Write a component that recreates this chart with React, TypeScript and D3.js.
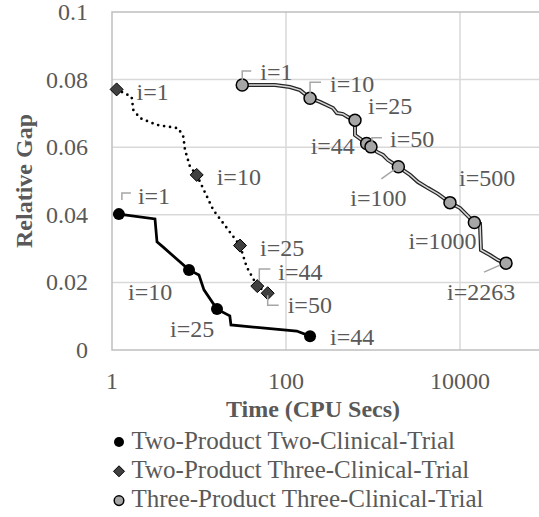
import React from 'react';
import * as d3 from 'd3';

// time (CPU secs), relative gap
const twoTwoLine: [number, number][] = [
  [1.2, 0.0402], [3.12, 0.0388], [3.29, 0.032], [3.85, 0.0305], [7.68, 0.0237],
  [9.99, 0.0222], [11.4, 0.0178], [16.1, 0.0121], [22.6, 0.0101], [23.3, 0.0074],
  [133, 0.0056], [189, 0.0041],
];
const twoTwoMarks = [
  { i: 1, t: 1.2, g: 0.0402 },
  { i: 10, t: 7.68, g: 0.0237 },
  { i: 25, t: 16.1, g: 0.0121 },
  { i: 44, t: 189, g: 0.0041 },
];

const twoThreeLine: [number, number][] = [
  [1.13, 0.0771], [1.68, 0.0749], [1.76, 0.071], [2.1, 0.0686], [3.27, 0.0666],
  [5.78, 0.0656], [6.6, 0.0631], [6.9, 0.0592], [7.88, 0.0542], [9.41, 0.0518],
  [14.6, 0.0414], [29.6, 0.0309], [35.3, 0.0246], [46.8, 0.0189], [61.6, 0.0168],
];
const twoThreeMarks = [
  { i: 1, t: 1.13, g: 0.0771 },
  { i: 10, t: 9.41, g: 0.0518 },
  { i: 25, t: 29.6, g: 0.0309 },
  { i: 44, t: 46.8, g: 0.0189 },
  { i: 50, t: 61.6, g: 0.0168 },
];

const threeThreeLine: [number, number][] = [
  [31.4, 0.0784], [74.8, 0.0784], [111, 0.0778], [145, 0.0769], [189, 0.0745],
  [246, 0.0734], [347, 0.0716], [385, 0.0701], [452, 0.0698], [516, 0.0689],
  [621, 0.068], [621, 0.0636], [748, 0.0621], [845, 0.0611], [948, 0.0601],
  [1111, 0.0586], [1303, 0.0577], [1487, 0.0562], [1956, 0.0542], [2663, 0.0518],
  [3289, 0.0497], [4287, 0.0479], [5586, 0.0462], [7670, 0.0436], [10000, 0.042],
  [12370, 0.0396], [14630, 0.0377], [16980, 0.0373], [17430, 0.0296], [22100, 0.0281],
  [27350, 0.0266], [33800, 0.0257],
];
const threeThreeMarks = [
  { i: 1, t: 31.4, g: 0.0784 },
  { i: 10, t: 189, g: 0.0745 },
  { i: 25, t: 621, g: 0.068 },
  { i: 44, t: 845, g: 0.0611 },
  { i: 50, t: 948, g: 0.0601 },
  { i: 100, t: 1956, g: 0.0542 },
  { i: 500, t: 7670, g: 0.0436 },
  { i: 1000, t: 14630, g: 0.0377 },
  { i: 2263, t: 33800, g: 0.0257 },
];

const seriesNames = [
  'Two-Product Two-Clinical-Trial',
  'Two-Product Three-Clinical-Trial',
  'Three-Product Three-Clinical-Trial',
];
const yTicks = [0, 0.02, 0.04, 0.06, 0.08, 0.1];
const xTicks = [1, 100, 10000];

// label placement (pixel offsets from the marker) and leader lines
const twoTwoLabelPos = [
  { dx: 19, dy: -10, leader: [[3, -14], [3, -21], [12, -21]] },
  { dx: -61, dy: 30 },
  { dx: -47, dy: 28 },
  { dx: 20, dy: 9 },
];
const twoThreeLabelPos = [
  { dx: 20, dy: 11 },
  { dx: 20, dy: 10 },
  { dx: 20, dy: 10 },
  { dx: 21, dy: -6, leader: [[2, -5], [2, -17], [13, -17]] },
  { dx: 20, dy: 20, leader: [[0, 2], [0, 12], [11, 12]] },
];
const threeThreeLabelPos = [
  { dx: 18, dy: -5, leader: [[0, -3], [0, -14], [9, -14]] },
  { dx: 20, dy: -6, leader: [[0, -3], [0, -16], [11, -16]] },
  { dx: 13, dy: -6 },
  { dx: -56, dy: 11 },
  { dx: 19, dy: 0, leader: [[1, -4], [1, -9], [11, -9]] },
  { dx: -48, dy: 39, leader: [[-3, 2], [-17, 12]] },
  { dx: 9, dy: -17 },
  { dx: -66, dy: 26 },
  { dx: -59, dy: 37, leader: [[-6, 2], [-22, 9]] },
];

const W = 539;
const H = 517;
const left = 112;
const top = 12;
const bottom = 350;
const right = 547;
const font = "'Times New Roman', 'Liberation Serif', serif";
const textColor = '#595959';
const fs = 24;

type Pos = { dx: number; dy: number; leader?: number[][] };

export default function App() {
  const x = d3.scaleLog().domain([1, 100000]).range([left, right]);
  const y = d3.scaleLinear().domain([0, 0.1]).range([bottom, top]);
  const line = d3.line<[number, number]>().x(d => x(d[0])).y(d => y(d[1]));

  const diamond = (cx: number, cy: number, r: number) =>
    `M${cx},${cy - r}L${cx + r},${cy}L${cx},${cy + r}L${cx - r},${cy}Z`;

  const txt = { fontFamily: font, fontSize: fs, fill: textColor };

  const labels = (marks: { i: number; t: number; g: number }[], pos: Pos[], key: string) =>
    marks.map((m, k) => {
      const cx = x(m.t);
      const cy = y(m.g);
      const p = pos[k];
      return (
        <g key={key + k}>
          {p.leader && (
            <polyline
              points={p.leader.map(q => `${cx + q[0]},${cy + q[1]}`).join(' ')}
              fill="none"
              stroke="#a6a6a6"
              strokeWidth={1.5}
            />
          )}
          <text x={cx + p.dx} y={cy + p.dy} style={txt}>
            {'i=' + m.i}
          </text>
        </g>
      );
    });

  return (
    <div style={{ position: 'absolute', left: 0, top: 0 }}>
      <svg width={W} height={H} style={{ display: 'block', background: '#fff' }}>
        {/* grid */}
        {yTicks.slice(1, -1).map(t => (
          <line key={'gy' + t} x1={left} x2={right} y1={y(t)} y2={y(t)} stroke="#d9d9d9" strokeWidth={1.5} />
        ))}
        {xTicks.slice(1).map(t => (
          <line key={'gx' + t} x1={x(t)} x2={x(t)} y1={top} y2={bottom} stroke="#d9d9d9" strokeWidth={1.5} />
        ))}
        <rect x={left} y={top} width={right - left} height={bottom - top} fill="none" stroke="#bfbfbf" strokeWidth={1.5} />

        {/* tick labels */}
        {yTicks.map(t => (
          <text key={'ty' + t} x={88} y={y(t) + 8} textAnchor="end" style={txt}>
            {String(t)}
          </text>
        ))}
        {xTicks.map(t => (
          <text key={'tx' + t} x={x(t)} y={389} textAnchor="middle" style={txt}>
            {String(t)}
          </text>
        ))}
        <text x={313} y={417} textAnchor="middle" style={{ ...txt, fontWeight: 'bold' }}>
          Time (CPU Secs)
        </text>
        <text
          transform={`translate(32,${(top + bottom) / 2}) rotate(-90)`}
          textAnchor="middle"
          style={{ ...txt, fontWeight: 'bold' }}
        >
          Relative Gap
        </text>

        {/* lines */}
        <path d={line(twoTwoLine) || ''} fill="none" stroke="#000" strokeWidth={2.75} />
        <path
          d={line(twoThreeLine) || ''}
          fill="none"
          stroke="#000"
          strokeWidth={2.75}
          strokeLinecap="round"
          strokeDasharray="0 6"
        />
        <path d={line(threeThreeLine) || ''} fill="none" stroke="#262626" strokeWidth={4} />
        <path d={line(threeThreeLine) || ''} fill="none" stroke="#d9d9d9" strokeWidth={1.5} />

        {/* markers */}
        {twoTwoMarks.map(m => (
          <circle key={'m1' + m.i} cx={x(m.t)} cy={y(m.g)} r={6} fill="#000" />
        ))}
        {twoThreeMarks.map(m => (
          <path key={'m2' + m.i} d={diamond(x(m.t), y(m.g), 6.5)} fill="#404040" stroke="#000" strokeWidth={1} />
        ))}
        {threeThreeMarks.map(m => (
          <circle key={'m3' + m.i} cx={x(m.t)} cy={y(m.g)} r={6} fill="#a6a6a6" stroke="#000" strokeWidth={1.5} />
        ))}

        {/* data labels */}
        {labels(twoTwoMarks, twoTwoLabelPos, 'l1')}
        {labels(twoThreeMarks, twoThreeLabelPos, 'l2')}
        {labels(threeThreeMarks, threeThreeLabelPos, 'l3')}

        {/* legend */}
        {seriesNames.map((name, k) => {
          const cy = 442 + k * 29.3;
          return (
            <g key={'lg' + k}>
              {k === 0 && <circle cx={119} cy={cy} r={5} fill="#000" />}
              {k === 1 && <path d={diamond(119, cy, 5.5)} fill="#404040" stroke="#000" strokeWidth={1} />}
              {k === 2 && <circle cx={119} cy={cy} r={4.8} fill="#a6a6a6" stroke="#000" strokeWidth={1.5} />}
              <text x={131.5} y={cy + 6.5} style={{ ...txt, fontSize: 25 }}>
                {name}
              </text>
            </g>
          );
        })}
      </svg>
    </div>
  );
}
